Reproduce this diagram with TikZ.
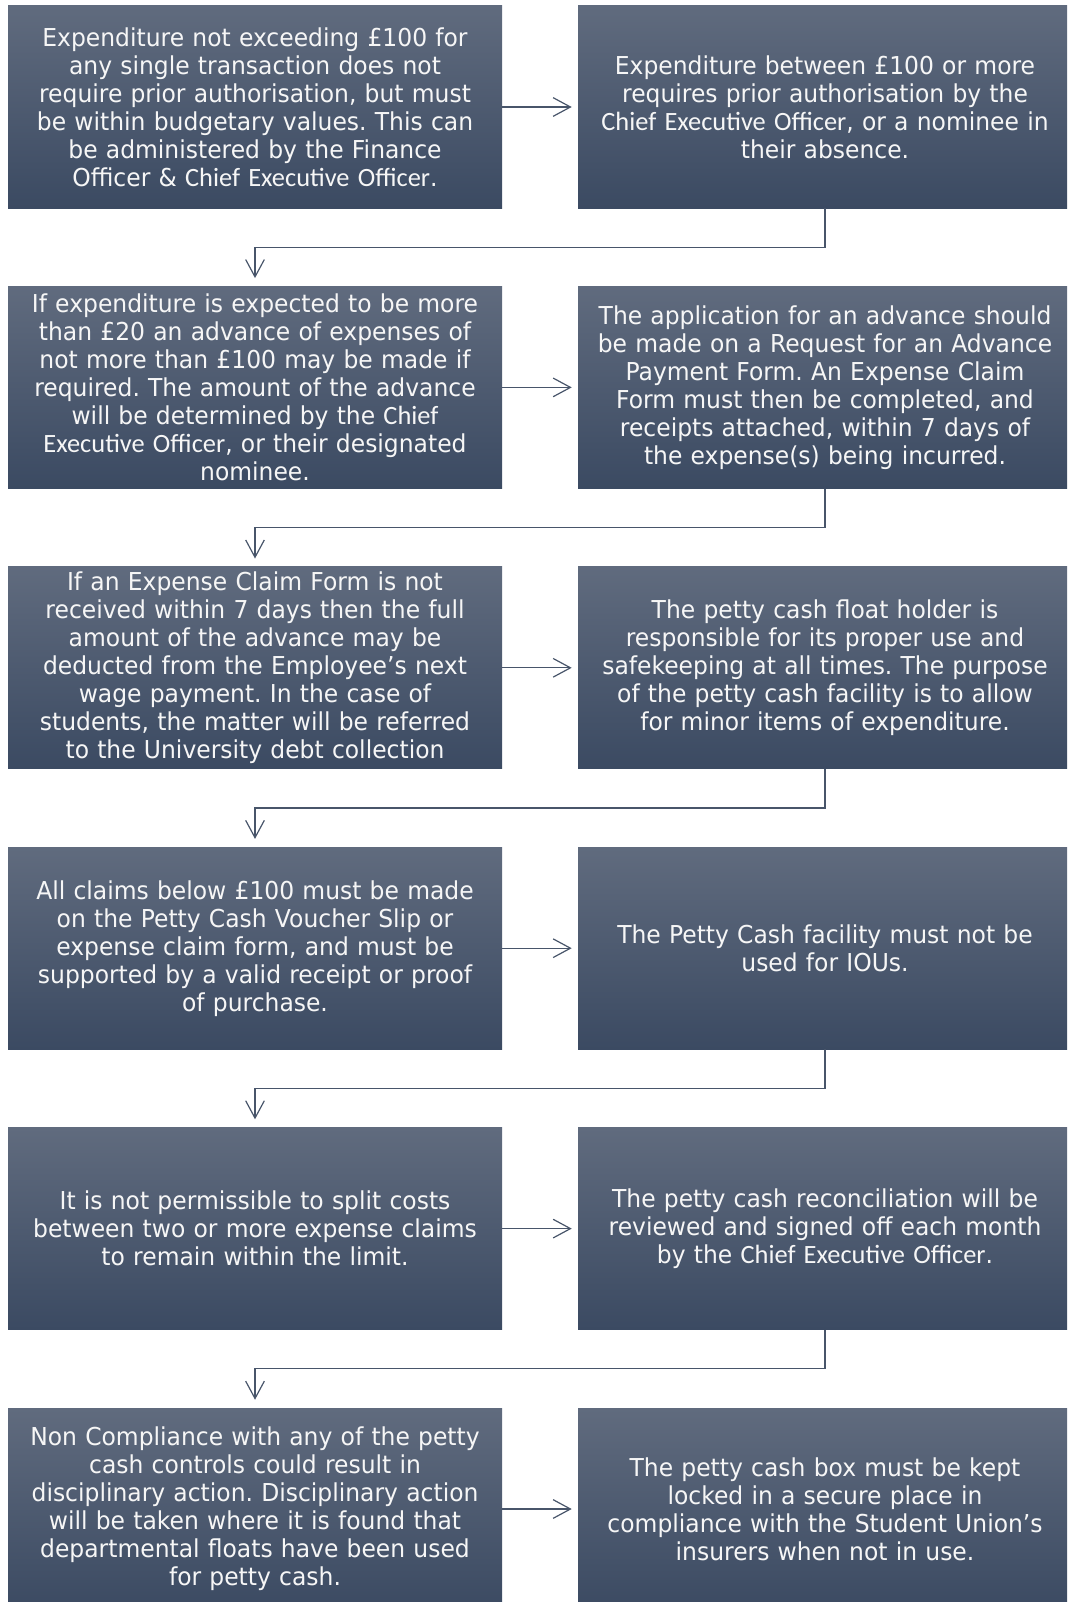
\documentclass[tikz,border=0pt]{standalone}
\usepackage{fontspec}
\setmainfont{DejaVu Sans}[FakeStretch=0.95]
\newfontfamily\ceofont{Carlito}
\usetikzlibrary{arrows.meta,calc}
\definecolor{boxtop}{RGB}{96,107,126}
\definecolor{boxbot}{RGB}{59,74,98}
\definecolor{linkcol}{RGB}{72,85,106}
\definecolor{txtcol}{RGB}{246,246,246}
\newcommand{\ceo}[1]{{\ceofont\fontsize{19.8pt}{21pt}\selectfont #1}}
\tikzset{
  stepbox/.style={rectangle, inner sep=0pt, minimum width=370.5pt, minimum height=151.5pt,
    text width=368pt, align=center, top color=boxtop, bottom color=boxbot,
    text=txtcol, font=\fontsize{18.5pt}{21pt}\selectfont\frenchspacing},
  link/.style={draw=linkcol, line width=0.9pt,
    -{Straight Barb[length=13pt,width=14pt,line width=0.9pt]}}
}
\begin{document}
\begin{tikzpicture}[x=0.75pt,y=-0.75pt]
\useasboundingbox (0,0) rectangle (1067,1602);
\clip (0,0) rectangle (1067,1602);
% row pitch 280.4, box height 202, left column centred at 255, right at 825
\node[stepbox] (b1) at (255,107) {Expenditure not exceeding £100 for\\any single transaction does not\\require prior authorisation, but must\\be within budgetary values. This can\\be administered by the Finance\\Officer \& \ceo{Chief Executive Officer}.};
\node[stepbox] (b2) at (825,107) {Expenditure between £100 or more\\requires prior authorisation by the\\\ceo{Chief Executive Officer}, or a nominee in\\their absence.};
\node[stepbox] (b3) at (255,387.4) {If expenditure is expected to be more\\than £20 an advance of expenses of\\not more than £100 may be made if\\required. The amount of the advance\\will be determined by the \ceo{Chief}\\\ceo{Executive Officer}, or their designated\\nominee.};
\node[stepbox] (b4) at (825,387.4) {The application for an advance should\\be made on a Request for an Advance\\Payment Form. An Expense Claim\\Form must then be completed, and\\receipts attached, within 7 days of\\the expense(s) being incurred.};
\node[stepbox] (b5) at (255,667.8) {If an Expense Claim Form is not\\received within 7 days then the full\\amount of the advance may be\\deducted from the Employee’s next\\wage payment. In the case of\\students, the matter will be referred\\to the University debt collection};
\node[stepbox] (b6) at (825,667.8) {The petty cash float holder is\\responsible for its proper use and\\safekeeping at all times. The purpose\\of the petty cash facility is to allow\\for minor items of expenditure.};
\node[stepbox] (b7) at (255,948.2) {All claims below £100 must be made\\on the Petty Cash Voucher Slip or\\expense claim form, and must be\\supported by a valid receipt or proof\\of purchase.};
\node[stepbox] (b8) at (825,948.2) {The Petty Cash facility must not be\\used for IOUs.};
\node[stepbox] (b9) at (255,1228.6) {It is not permissible to split costs\\between two or more expense claims\\to remain within the limit.};
\node[stepbox] (b10) at (825,1228.6) {The petty cash reconciliation will be\\reviewed and signed off each month\\by the \ceo{Chief Executive Officer}.};
\node[stepbox] (b11) at (255,1509) {Non Compliance with any of the petty\\cash controls could result in\\disciplinary action. Disciplinary action\\will be taken where it is found that\\departmental floats have been used\\for petty cash.};
\node[stepbox] (b12) at (825,1509) {The petty cash box must be kept\\locked in a secure place in\\compliance with the Student Union’s\\insurers when not in use.};
% horizontal links
\foreach \a/\b in {b1/b2,b3/b4,b5/b6,b7/b8,b9/b10,b11/b12}
  \draw[link] (\a.east) -- ($(\b.west)+(-6,0)$);
% elbow links from each right box to the next left box
\foreach \a/\b in {b2/b3,b4/b5,b6/b7,b8/b9,b10/b11}
  \draw[link] (\a.south) -- ++(0,39) -| ($(\b.north)+(0,-8)$);
\end{tikzpicture}
\end{document}
